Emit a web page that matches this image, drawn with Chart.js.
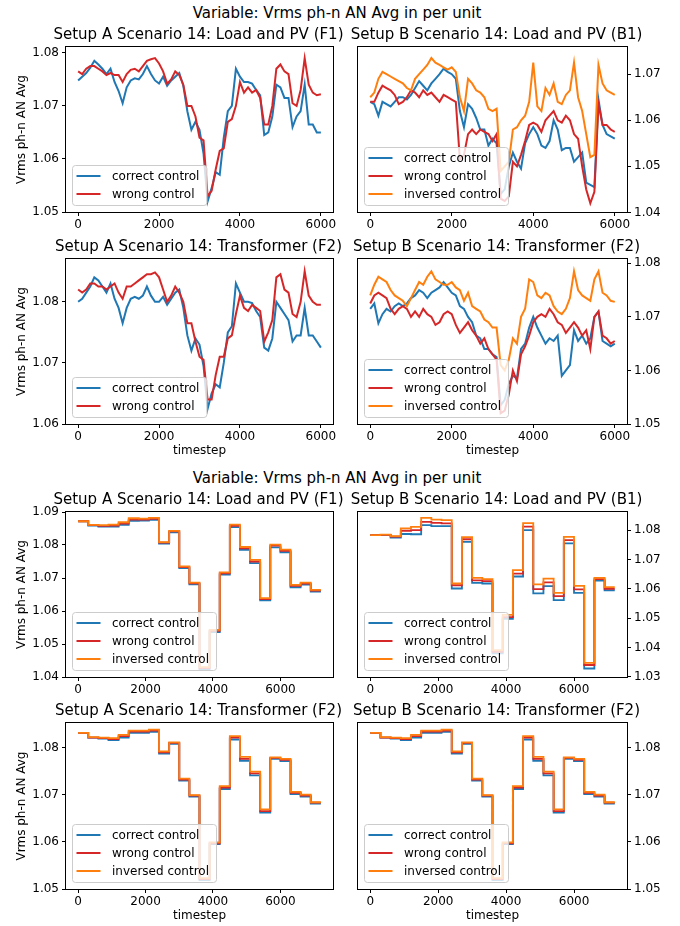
<!DOCTYPE html>
<html>
<head>
<meta charset="utf-8">
<script src="https://cdn.jsdelivr.net/npm/chart.js@4.4.0/dist/chart.umd.min.js"></script>
<style>
  body { margin: 0; background: #fff; }
  #fig { position: relative; width: 680px; height: 926px; overflow: hidden; font-family: 'DejaVu Sans', sans-serif; }
  .suptitle { position: absolute; left: -3px; width: 680px; text-align: center; font-size: 15px; line-height: 18px; color: #000; }
  canvas { position: absolute; }
</style>
</head>
<body>
<div id="fig">
  <div class="suptitle" style="top:4px">Variable: Vrms ph-n AN Avg in per unit</div>
  <div class="suptitle" style="top:469px">Variable: Vrms ph-n AN Avg in per unit</div>
</div>
<script>
const C_CORRECT = '#1f77b4';
const C_WRONG = '#d62728';
const C_INV = '#ff7f0e';

// timesteps for the noisy runs (read every 100 steps)
const tsTop = [0,100,200,300,400,500,600,700,800,900,1000,1100,1200,1300,1400,1500,1600,1700,1800,1900,
  2000,2100,2200,2300,2400,2500,2600,2700,2800,2900,3000,3100,3200,3300,3400,3500,3600,3700,3800,3900,
  4000,4100,4200,4300,4400,4500,4600,4700,4800,4900,5000,5100,5200,5300,5400,5500,5600,5700,5800,5900,6000];
// block starts for the step runs
const tsStep = [0,300,600,900,1200,1500,1800,2100,2400,2700,3000,3300,3600,3900,4200,4500,4800,5100,5400,5700,6000,6300,6600,6900,7200];

const xTicks = [0, 2000, 4000, 6000];

// Setup A, Load and PV (F1)
const aLoadCorrect = [1.0748,1.0755,1.0762,1.0772,1.0785,1.0778,1.0770,1.0760,1.0770,1.0745,
  1.0728,1.0705,1.0735,1.0748,1.0752,1.0750,1.0760,1.0775,1.0760,1.0748,
  1.0742,1.0755,1.0738,1.0748,1.0755,1.0762,1.0738,1.0690,1.0655,1.0670,
  1.0655,1.0610,1.0520,1.0545,1.0575,1.0570,1.0640,1.0690,1.0700,1.0770,
  1.0755,1.0745,1.0745,1.0742,1.0730,1.0720,1.0645,1.0650,1.0680,1.0740,
  1.0735,1.0715,1.0715,1.0660,1.0680,1.0690,1.0740,1.0665,1.0665,1.0650,1.0650];
const aLoadWrong = [1.0765,1.0760,1.0770,1.0775,1.0775,1.0770,1.0765,1.0758,1.0762,1.0758,
  1.0758,1.0745,1.0760,1.0768,1.0770,1.0765,1.0775,1.0785,1.0788,1.0790,
  1.0780,1.0765,1.0742,1.0750,1.0765,1.0758,1.0740,1.0700,1.0700,1.0680,
  1.0640,1.0635,1.0530,1.0540,1.0580,1.0615,1.0620,1.0670,1.0675,1.0700,
  1.0745,1.0725,1.0735,1.0725,1.0730,1.0715,1.0665,1.0665,1.0700,1.0770,
  1.0778,1.0765,1.0760,1.0705,1.0700,1.0730,1.0790,1.0740,1.0725,1.0720,1.0722];

// Setup B, Load and PV (B1)
const bLoadCorrect = [1.0640,1.0635,1.0610,1.0640,1.0635,1.0630,1.0640,1.0650,1.0650,1.0645,
  1.0655,1.0670,1.0685,1.0675,1.0665,1.0680,1.0690,1.0700,1.0712,1.0705,
  1.0700,1.0690,1.0620,1.0585,1.0635,1.0625,1.0605,1.0580,1.0580,1.0545,
  1.0560,1.0550,1.0440,1.0450,1.0500,1.0530,1.0510,1.0495,1.0550,1.0570,
  1.0585,1.0570,1.0545,1.0540,1.0555,1.0600,1.0580,1.0535,1.0540,1.0540,
  1.0510,1.0520,1.0530,1.0465,1.0460,1.0455,1.0645,1.0590,1.0570,1.0565,1.0560];
const bLoadWrong = [1.0640,1.0640,1.0660,1.0675,1.0670,1.0665,1.0655,1.0635,1.0640,1.0650,
  1.0665,1.0660,1.0650,1.0665,1.0655,1.0660,1.0650,1.0640,1.0655,1.0650,
  1.0645,1.0640,1.0515,1.0525,1.0570,1.0580,1.0570,1.0580,1.0575,1.0570,
  1.0555,1.0570,1.0430,1.0425,1.0435,1.0510,1.0500,1.0525,1.0555,1.0590,
  1.0595,1.0590,1.0575,1.0600,1.0610,1.0620,1.0600,1.0595,1.0610,1.0600,
  1.0570,1.0560,1.0500,1.0450,1.0420,1.0445,1.0635,1.0590,1.0590,1.0580,1.0575];
const bLoadInv = [1.0650,1.0660,1.0690,1.0705,1.0700,1.0695,1.0690,1.0685,1.0680,1.0670,
  1.0665,1.0690,1.0700,1.0710,1.0720,1.0735,1.0725,1.0720,1.0715,1.0710,
  1.0715,1.0705,1.0650,1.0620,1.0690,1.0680,1.0665,1.0660,1.0650,1.0625,
  1.0620,1.0625,1.0490,1.0500,1.0510,1.0580,1.0585,1.0600,1.0610,1.0640,
  1.0725,1.0630,1.0620,1.0670,1.0655,1.0680,1.0640,1.0635,1.0655,1.0665,
  1.0725,1.0650,1.0620,1.0570,1.0520,1.0525,1.0720,1.0680,1.0665,1.0660,1.0655];

// Setup A, Transformer (F2)
const aTrafoCorrect = [1.0800,1.0805,1.0815,1.0825,1.0840,1.0835,1.0825,1.0815,1.0830,1.0805,
  1.0790,1.0765,1.0790,1.0805,1.0808,1.0805,1.0810,1.0825,1.0810,1.0800,
  1.0800,1.0808,1.0795,1.0805,1.0815,1.0820,1.0790,1.0745,1.0720,1.0740,
  1.0730,1.0695,1.0625,1.0650,1.0665,1.0660,1.0700,1.0750,1.0760,1.0830,
  1.0815,1.0800,1.0800,1.0798,1.0785,1.0775,1.0725,1.0720,1.0740,1.0800,
  1.0790,1.0780,1.0770,1.0735,1.0745,1.0745,1.0790,1.0745,1.0745,1.0735,1.0725];
const aTrafoWrong = [1.0820,1.0815,1.0820,1.0830,1.0830,1.0825,1.0825,1.0820,1.0825,1.0830,
  1.0815,1.0805,1.0825,1.0825,1.0830,1.0835,1.0840,1.0845,1.0845,1.0848,
  1.0840,1.0820,1.0800,1.0810,1.0825,1.0815,1.0800,1.0765,1.0765,1.0735,
  1.0710,1.0705,1.0640,1.0640,1.0680,1.0710,1.0710,1.0740,1.0745,1.0780,
  1.0810,1.0790,1.0785,1.0795,1.0790,1.0785,1.0735,1.0750,1.0770,1.0840,
  1.0845,1.0820,1.0815,1.0780,1.0775,1.0800,1.0850,1.0810,1.0800,1.0795,1.0795];

// Setup B, Transformer (F2)
const bTrafoCorrect = [1.0715,1.0725,1.0688,1.0705,1.0715,1.0710,1.0720,1.0725,1.0720,1.0725,
  1.0735,1.0740,1.0750,1.0745,1.0735,1.0745,1.0750,1.0755,1.0765,1.0755,
  1.0745,1.0740,1.0720,1.0715,1.0700,1.0690,1.0665,1.0660,1.0640,1.0640,
  1.0630,1.0625,1.0535,1.0545,1.0575,1.0590,1.0585,1.0640,1.0650,1.0680,
  1.0700,1.0680,1.0665,1.0650,1.0660,1.0655,1.0665,1.0590,1.0600,1.0610,
  1.0675,1.0655,1.0665,1.0650,1.0660,1.0700,1.0710,1.0655,1.0650,1.0645,1.0650];
const bTrafoWrong = [1.0725,1.0740,1.0745,1.0740,1.0735,1.0715,1.0705,1.0715,1.0720,1.0715,
  1.0700,1.0710,1.0700,1.0715,1.0705,1.0700,1.0685,1.0690,1.0705,1.0710,
  1.0705,1.0685,1.0670,1.0680,1.0690,1.0675,1.0665,1.0650,1.0660,1.0640,
  1.0630,1.0620,1.0520,1.0525,1.0555,1.0600,1.0580,1.0630,1.0645,1.0665,
  1.0690,1.0700,1.0705,1.0700,1.0715,1.0705,1.0690,1.0685,1.0670,1.0680,
  1.0690,1.0680,1.0665,1.0675,1.0640,1.0700,1.0710,1.0665,1.0660,1.0650,1.0655];
const bTrafoInv = [1.0740,1.0760,1.0775,1.0770,1.0765,1.0750,1.0740,1.0735,1.0730,1.0720,
  1.0735,1.0750,1.0765,1.0760,1.0775,1.0785,1.0770,1.0765,1.0760,1.0760,
  1.0765,1.0755,1.0750,1.0730,1.0745,1.0720,1.0715,1.0710,1.0695,1.0690,
  1.0680,1.0680,1.0610,1.0600,1.0620,1.0660,1.0650,1.0700,1.0715,1.0770,
  1.0765,1.0740,1.0735,1.0745,1.0740,1.0720,1.0710,1.0705,1.0715,1.0735,
  1.0785,1.0750,1.0740,1.0735,1.0730,1.0770,1.0785,1.0745,1.0740,1.0730,1.0728];

// step runs, one value per 300-step block
const sALoadCorrect = [1.0872,1.0859,1.0856,1.0856,1.0861,1.0873,1.0874,1.0876,1.0804,1.0838,1.0730,1.0681,1.0424,1.0536,1.0710,1.0854,1.0785,1.0745,1.0632,1.0793,1.0778,1.0672,1.0680,1.0659];
const sALoadWrong   = [1.0872,1.0860,1.0858,1.0859,1.0865,1.0877,1.0877,1.0879,1.0807,1.0841,1.0733,1.0684,1.0427,1.0540,1.0714,1.0858,1.0790,1.0750,1.0636,1.0798,1.0782,1.0676,1.0683,1.0662];
const sALoadInv     = [1.0872,1.0861,1.0860,1.0862,1.0869,1.0881,1.0880,1.0882,1.0809,1.0843,1.0735,1.0686,1.0430,1.0543,1.0717,1.0862,1.0794,1.0755,1.0639,1.0801,1.0786,1.0679,1.0686,1.0664];

const sBLoadCorrect = [1.0783,1.0783,1.0775,1.0787,1.0786,1.0817,1.0814,1.0814,1.0601,1.0760,1.0620,1.0618,1.0380,1.0497,1.0642,1.0800,1.0584,1.0609,1.0561,1.0755,1.0586,1.0328,1.0628,1.0595];
const sBLoadWrong   = [1.0783,1.0784,1.0778,1.0798,1.0800,1.0828,1.0825,1.0823,1.0612,1.0769,1.0629,1.0626,1.0385,1.0503,1.0652,1.0812,1.0599,1.0622,1.0575,1.0766,1.0598,1.0340,1.0633,1.0600];
const sBLoadInv     = [1.0783,1.0785,1.0780,1.0806,1.0811,1.0842,1.0836,1.0834,1.0618,1.0776,1.0637,1.0633,1.0391,1.0511,1.0664,1.0824,1.0615,1.0635,1.0586,1.0777,1.0610,1.0347,1.0637,1.0606];

const sTrafoCorrect = [1.0831,1.0821,1.0819,1.0816,1.0821,1.0831,1.0831,1.0833,1.0787,1.0808,1.0730,1.0696,1.0519,1.0595,1.0712,1.0817,1.0772,1.0741,1.0662,1.0776,1.0771,1.0701,1.0696,1.0681];
const sTrafoWrong   = [1.0831,1.0821,1.0820,1.0818,1.0824,1.0834,1.0834,1.0836,1.0790,1.0810,1.0732,1.0698,1.0521,1.0597,1.0715,1.0821,1.0776,1.0745,1.0665,1.0778,1.0774,1.0704,1.0698,1.0683];
const sTrafoInv     = [1.0831,1.0822,1.0821,1.0820,1.0827,1.0836,1.0836,1.0838,1.0792,1.0811,1.0734,1.0699,1.0523,1.0599,1.0718,1.0824,1.0780,1.0749,1.0669,1.0779,1.0776,1.0706,1.0700,1.0684];

Chart.defaults.font.family = "'DejaVu Sans', sans-serif";
Chart.defaults.font.size = 12;
Chart.defaults.color = '#000';

const FONT = "'DejaVu Sans', sans-serif";
const EXTRA = 20; // canvas overhang so long titles are not clipped

// frame, legend box and texts the way matplotlib draws them
const figPlugin = {
  id: 'figPlugin',
  afterDatasetsDraw(chart, args, opts) {
    const ctx = chart.ctx;
    const ca = chart.chartArea;
    ctx.save();
    ctx.strokeStyle = '#000';
    ctx.lineWidth = 1;
    ctx.strokeRect(ca.left - 0.5, ca.top - 0.5, ca.right - ca.left + 1, ca.bottom - ca.top + 1);

    // legend, lower left
    const sets = chart.data.datasets;
    ctx.font = '12px ' + FONT;
    const tw = Math.max(...sets.map(d => ctx.measureText(d.label).width));
    const bw = 40 + tw + 7;
    const bh = 22 + (sets.length - 1) * 18;
    const bx = ca.left + 6;
    const by = ca.bottom - 7 - bh;
    ctx.beginPath();
    ctx.roundRect(bx + 0.5, by + 0.5, bw, bh, 3);
    ctx.fillStyle = 'rgba(255,255,255,0.8)';
    ctx.fill();
    ctx.strokeStyle = '#cccccc';
    ctx.stroke();
    sets.forEach((d, i) => {
      const y = by + 11 + i * 18;
      ctx.beginPath();
      ctx.moveTo(bx + 4.5, y);
      ctx.lineTo(bx + 28.5, y);
      ctx.strokeStyle = d.borderColor;
      ctx.lineWidth = 2;
      ctx.stroke();
      ctx.fillStyle = '#000';
      ctx.textAlign = 'left';
      ctx.textBaseline = 'middle';
      ctx.fillText(d.label, bx + 40, y + 1);
    });
    ctx.restore();
  },
  afterDraw(chart, args, opts) {
    const ctx = chart.ctx;
    const ca = chart.chartArea;
    const cx = (ca.left + ca.right) / 2;
    ctx.save();
    ctx.fillStyle = '#000';
    ctx.textAlign = 'center';
    ctx.textBaseline = 'middle';
    ctx.font = '15px ' + FONT;
    ctx.fillText(opts.title, cx + (opts.right ? 4 : -1), ca.top - 11.5);
    ctx.font = '12px ' + FONT;
    if (opts.xLabel) ctx.fillText('timestep', cx, ca.bottom + 27);
    if (!opts.right) {
      ctx.translate(22, (ca.top + ca.bottom) / 2);
      ctx.rotate(-Math.PI / 2);
      ctx.fillText('Vrms ph-n AN Avg', 0, 0);
    }
    ctx.restore();
  }
};

function lineData(xs, ys) {
  const pts = ys.map((y, i) => ({ x: xs[i], y: y }));
  if (xs.length > ys.length) pts.push({ x: xs[ys.length], y: ys[ys.length - 1] });
  return pts;
}

function makePanel(p) {
  const fig = document.getElementById('fig');
  const cv = document.createElement('canvas');
  const right = p.col === 1;
  const W = 340 + EXTRA;
  const H = (p.bottom - p.top) + 30 + 42;
  cv.width = W;
  cv.height = H;
  cv.style.left = (right ? 340 - EXTRA : 0) + 'px';
  cv.style.top = (p.top - 30) + 'px';
  cv.style.width = W + 'px';
  cv.style.height = H + 'px';
  fig.appendChild(cv);

  const n = p.series.length;
  const datasets = p.series.map((s, i) => ({
    label: s[1],
    data: lineData(p.xs, s[0]),
    borderColor: s[2],
    borderWidth: p.stepped ? 1.8 : 2,
    pointRadius: 0,
    tension: 0,
    stepped: p.stepped ? true : false,
    order: n - i
  }));

  const tickGrid = { drawOnChartArea: false, drawTicks: true, tickLength: 4, color: '#000', lineWidth: 1 };

  new Chart(cv, {
    type: 'line',
    data: { datasets },
    options: {
      responsive: false,
      animation: false,
      devicePixelRatio: 1,
      layout: { padding: { top: 30, left: right ? 18 + EXTRA : 0, right: right ? 0 : 7 + EXTRA, bottom: 0 } },
      plugins: {
        legend: { display: false },
        tooltip: { enabled: false },
        figPlugin: { title: p.title, xLabel: p.xLabel, right: right }
      },
      scales: {
        x: {
          type: 'linear',
          min: p.xMin,
          max: p.xMax,
          afterFit: s => { s.height = 42; },
          afterBuildTicks: s => { s.ticks = xTicks.map(v => ({ value: v })); },
          ticks: { autoSkip: false, maxRotation: 0, padding: 2, callback: v => String(v) },
          grid: tickGrid,
          border: { display: false }
        },
        y: {
          type: 'linear',
          position: right ? 'right' : 'left',
          min: p.yMin,
          max: p.yMax,
          afterFit: s => { s.width = right ? 53 : 66; },
          afterBuildTicks: s => { s.ticks = p.yTicks.map(v => ({ value: v })); },
          ticks: { autoSkip: false, padding: 3, callback: v => v.toFixed(2) },
          grid: tickGrid,
          border: { display: false }
        }
      }
    },
    plugins: [figPlugin]
  });
}

const panels = [
  { col: 0, top: 47, bottom: 212, title: 'Setup A Scenario 14: Load and PV (F1)', xs: tsTop, xMin: -300, xMax: 6300,
    yMin: 1.05, yMax: 1.0811, yTicks: [1.05, 1.06, 1.07, 1.08], xLabel: false,
    series: [[aLoadCorrect, 'correct control', C_CORRECT], [aLoadWrong, 'wrong control', C_WRONG]] },
  { col: 1, top: 47, bottom: 212, title: 'Setup B Scenario 14: Load and PV (B1)', xs: tsTop, xMin: -300, xMax: 6300,
    yMin: 1.0401, yMax: 1.0759, yTicks: [1.04, 1.05, 1.06, 1.07], xLabel: false,
    series: [[bLoadCorrect, 'correct control', C_CORRECT], [bLoadWrong, 'wrong control', C_WRONG], [bLoadInv, 'inversed control', C_INV]] },
  { col: 0, top: 259, bottom: 424, title: 'Setup A Scenario 14: Transformer (F2)', xs: tsTop, xMin: -300, xMax: 6300,
    yMin: 1.06, yMax: 1.087, yTicks: [1.06, 1.07, 1.08], xLabel: true,
    series: [[aTrafoCorrect, 'correct control', C_CORRECT], [aTrafoWrong, 'wrong control', C_WRONG]] },
  { col: 1, top: 259, bottom: 424, title: 'Setup B Scenario 14: Transformer (F2)', xs: tsTop, xMin: -300, xMax: 6300,
    yMin: 1.05, yMax: 1.0808, yTicks: [1.05, 1.06, 1.07, 1.08], xLabel: true,
    series: [[bTrafoCorrect, 'correct control', C_CORRECT], [bTrafoWrong, 'wrong control', C_WRONG], [bTrafoInv, 'inversed control', C_INV]] },
  { col: 0, top: 512, bottom: 677, title: 'Setup A Scenario 14: Load and PV (F1)', xs: tsStep, xMin: -360, xMax: 7560, stepped: true,
    yMin: 1.04, yMax: 1.09, yTicks: [1.04, 1.05, 1.06, 1.07, 1.08, 1.09], xLabel: false,
    series: [[sALoadCorrect, 'correct control', C_CORRECT], [sALoadWrong, 'wrong control', C_WRONG], [sALoadInv, 'inversed control', C_INV]] },
  { col: 1, top: 512, bottom: 677, title: 'Setup B Scenario 14: Load and PV (B1)', xs: tsStep, xMin: -360, xMax: 7560, stepped: true,
    yMin: 1.0299, yMax: 1.0862, yTicks: [1.03, 1.04, 1.05, 1.06, 1.07, 1.08], xLabel: false,
    series: [[sBLoadCorrect, 'correct control', C_CORRECT], [sBLoadWrong, 'wrong control', C_WRONG], [sBLoadInv, 'inversed control', C_INV]] },
  { col: 0, top: 723, bottom: 889, title: 'Setup A Scenario 14: Transformer (F2)', xs: tsStep, xMin: -360, xMax: 7560, stepped: true,
    yMin: 1.05, yMax: 1.0852, yTicks: [1.05, 1.06, 1.07, 1.08], xLabel: true,
    series: [[sTrafoCorrect, 'correct control', C_CORRECT], [sTrafoWrong, 'wrong control', C_WRONG], [sTrafoInv, 'inversed control', C_INV]] },
  { col: 1, top: 723, bottom: 889, title: 'Setup B Scenario 14: Transformer (F2)', xs: tsStep, xMin: -360, xMax: 7560, stepped: true,
    yMin: 1.05, yMax: 1.0852, yTicks: [1.05, 1.06, 1.07, 1.08], xLabel: true,
    series: [[sTrafoCorrect, 'correct control', C_CORRECT], [sTrafoWrong, 'wrong control', C_WRONG], [sTrafoInv, 'inversed control', C_INV]] }
];

panels.forEach(makePanel);
</script>
</body>
</html>
